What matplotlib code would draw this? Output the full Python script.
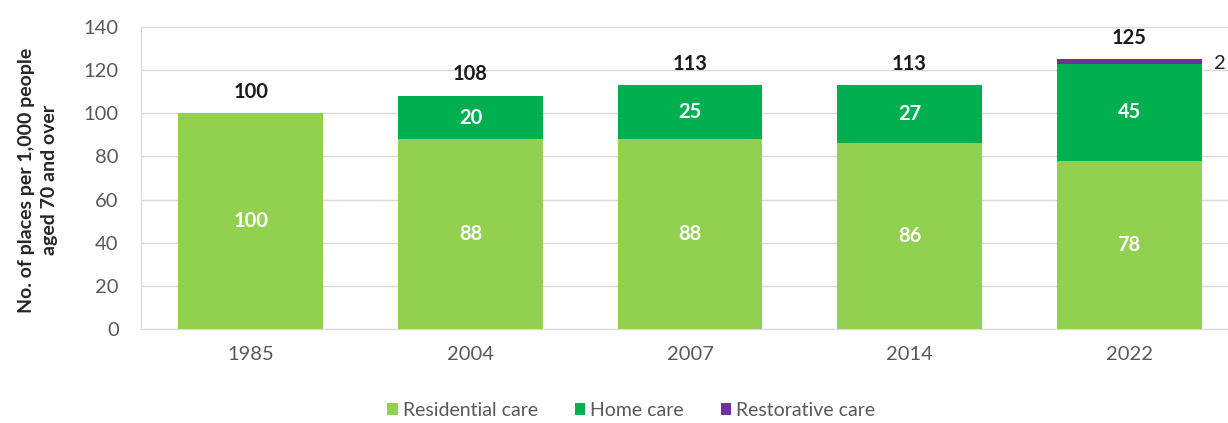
import numpy as np
import matplotlib.pyplot as plt

years = ['1985', '2004', '2007', '2014', '2022']
residential = [100, 88, 88, 86, 78]
home = [0, 20, 25, 27, 45]
restorative = [0, 0, 0, 0, 2]

plt.rcParams['font.family'] = ['Lato', 'DejaVu Sans']

fig = plt.figure(figsize=(12.28, 4.23), dpi=100)
ax = fig.add_axes([0.1148, 0.2222, 0.8852, 0.714])

x = np.arange(len(years))
w = 0.66
res = np.array(residential)
hom = np.array(home)
rst = np.array(restorative)

ax.bar(x, res, w, color='#92D050', label='Residential care', zorder=2)
ax.bar(x, hom, w, bottom=res, color='#00B050', label='Home care', zorder=2)
ax.bar(x, rst, w, bottom=res + hom, color='#7030A0', label='Restorative care', zorder=2)

totals = res + hom + rst
for i in range(len(years)):
    ax.text(x[i], res[i] / 2, str(res[i]), ha='center', va='center',
            color='white', fontsize=14.5, fontweight='bold', zorder=3)
    if hom[i] > 0:
        ax.text(x[i], res[i] + hom[i] / 2, str(hom[i]), ha='center', va='center',
                color='white', fontsize=14.5, fontweight='bold', zorder=3)
    if rst[i] > 0:
        # small segment: value goes beside the bar
        ax.text(x[i] + w / 2 + 0.055, totals[i] - 2, str(rst[i]), ha='left', va='center',
                color='#262626', fontsize=14.5, zorder=3)
    ax.text(x[i], totals[i] + 10, str(totals[i]), ha='center', va='center',
            color='#1a1a1a', fontsize=14.5, fontweight='bold', zorder=3)

ax.set_xlim(-0.5, 4.45)
ax.set_ylim(0, 140)
ax.set_yticks(range(0, 141, 20))
ax.set_xticks(x)
ax.set_xticklabels(years)
ax.tick_params(axis='both', length=0, colors='#595959', labelsize=14.5)
ax.tick_params(axis='x', pad=12)
ax.tick_params(axis='y', pad=16)
ax.grid(axis='y', color='#D9D9D9', linewidth=1, zorder=0)
for s in ['top', 'right']:
    ax.spines[s].set_visible(False)
ax.spines['left'].set_color('#D9D9D9')
ax.spines['bottom'].set_color('#D9D9D9')

fig.text(0.031, 0.574, 'No. of places per 1,000 people\naged 70 and over', rotation=90,
         ha='center', va='center', multialignment='center', fontsize=14,
         fontweight='bold', color='#262626', linespacing=1.4)

ax.legend(loc='center', bbox_to_anchor=(0.514, 0.03), bbox_transform=fig.transFigure,
          ncol=3, frameon=False, fontsize=14, handlelength=0.55, handleheight=0.55,
          handletextpad=0.25, columnspacing=1.9, labelcolor='#595959')

fig.savefig('out.png', dpi=100)
